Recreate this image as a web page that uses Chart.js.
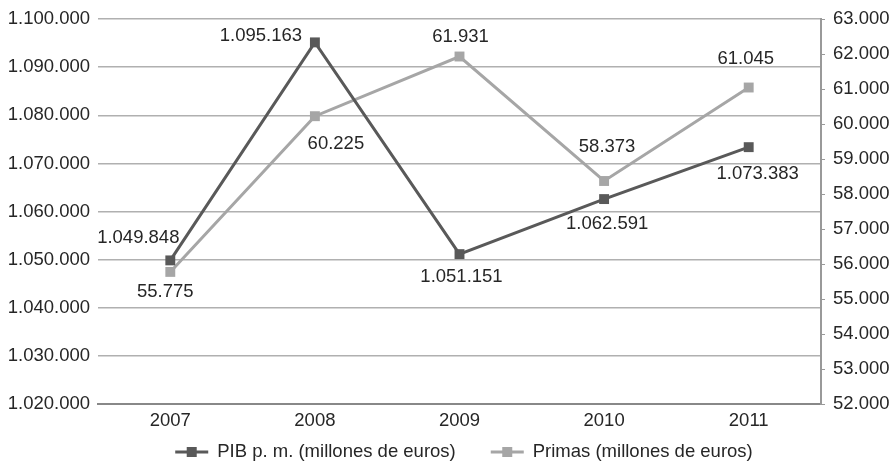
<!DOCTYPE html>
<html>
<head>
<meta charset="utf-8">
<script src="https://cdn.jsdelivr.net/npm/chart.js@4/dist/chart.umd.min.js"></script>
<style>
  html, body { margin: 0; padding: 0; background: #fff; }
  #wrap { width: 894px; height: 463px; }
</style>
</head>
<body>
<div id="wrap"><canvas id="chart" width="894" height="463"></canvas></div>
<script>
// datos
const years = ["2007", "2008", "2009", "2010", "2011"];
const pibValues = [1049848, 1095163, 1051151, 1062591, 1073383];
const primasValues = [55775, 60225, 61931, 58373, 61045];
const pibLabel = "PIB p. m. (millones de euros)";
const primasLabel = "Primas (millones de euros)";
const leftTicks = { min: 1020000, max: 1100000, step: 10000 };
const rightTicks = { min: 52000, max: 63000, step: 1000 };

// desplazamiento de etiquetas (estilo)
const pibLabelOffsets = [[-32, -22], [-54, -6], [2, 23], [3, 25], [9, 27]];
const primasLabelOffsets = [[-5, 20], [21, 28], [1, -20], [3, -34], [-3, -29]];

const darkGray = "#595959";
const lightGray = "#a6a6a6";
const textColor = "#262626";
const FONT = "'Liberation Sans', Arial, sans-serif";
const FONT_SIZE = 18.5;

// formato con punto de miles
function fmt(v) {
  return String(Math.round(v)).replace(/\B(?=(\d{3})+(?!\d))/g, ".");
}

// etiquetas de datos
const dataLabelPlugin = {
  id: "dataLabels",
  afterDatasetsDraw(chart) {
    const ctx = chart.ctx;
    ctx.save();
    ctx.font = FONT_SIZE + "px " + FONT;
    ctx.fillStyle = textColor;
    ctx.textAlign = "center";
    ctx.textBaseline = "middle";
    chart.data.datasets.forEach((ds, i) => {
      const meta = chart.getDatasetMeta(i);
      meta.data.forEach((pt, j) => {
        const off = ds.labelOffsets[j];
        ctx.fillText(fmt(ds.data[j]), pt.x + off[0], pt.y + off[1]);
      });
    });
    ctx.restore();
  },
};

// leyenda propia
const legendPlugin = {
  id: "customLegend",
  afterDraw(chart) {
    const ctx = chart.ctx;
    ctx.save();
    ctx.font = FONT_SIZE + "px " + FONT;
    const lineW = 33;
    const gapText = 9;
    const gapItem = 35;
    const items = chart.data.datasets.map((ds) => ({
      text: ds.label,
      color: ds.borderColor,
      w: lineW + gapText + ctx.measureText(ds.label).width,
    }));
    const total = items.reduce((s, it) => s + it.w, 0) + gapItem * (items.length - 1);
    let x = 464 - total / 2;
    const y = 452;
    items.forEach((it) => {
      ctx.strokeStyle = it.color;
      ctx.lineWidth = 3;
      ctx.beginPath();
      ctx.moveTo(x, y);
      ctx.lineTo(x + lineW, y);
      ctx.stroke();
      ctx.fillStyle = it.color;
      ctx.fillRect(x + lineW / 2 - 5, y - 5, 10, 10);
      ctx.fillStyle = textColor;
      ctx.textAlign = "left";
      ctx.textBaseline = "middle";
      ctx.fillText(it.text, x + lineW + gapText, y);
      x += it.w + gapItem;
    });
    ctx.restore();
  },
};

const ctx = document.getElementById("chart").getContext("2d");
new Chart(ctx, {
  type: "line",
  data: {
    labels: years,
    datasets: [
      {
        label: pibLabel,
        data: pibValues,
        yAxisID: "y",
        borderColor: darkGray,
        backgroundColor: darkGray,
        borderWidth: 3,
        pointStyle: "rect",
        pointRadius: 7,
        pointBorderWidth: 0,
        tension: 0,
        labelOffsets: pibLabelOffsets,
      },
      {
        label: primasLabel,
        data: primasValues,
        yAxisID: "y1",
        borderColor: lightGray,
        backgroundColor: lightGray,
        borderWidth: 3,
        pointStyle: "rect",
        pointRadius: 7,
        pointBorderWidth: 0,
        tension: 0,
        labelOffsets: primasLabelOffsets,
      },
    ],
  },
  options: {
    responsive: false,
    animation: false,
    devicePixelRatio: 1,
    layout: { padding: { top: 18, right: 0, bottom: 30, left: 0 } },
    plugins: {
      legend: { display: false },
      tooltip: { enabled: false },
    },
    scales: {
      x: {
        offset: true,
        grid: { display: false, drawTicks: false },
        border: { display: true, color: "#888888", width: 2 },
        ticks: { color: textColor, font: { size: FONT_SIZE, family: FONT }, padding: 6 },
        afterFit: (scale) => { scale.height = 29; },
      },
      y: {
        position: "left",
        min: leftTicks.min,
        max: leftTicks.max,
        grid: { color: "#b0b0b0", lineWidth: 1.5, drawTicks: false },
        border: { display: false },
        ticks: {
          stepSize: leftTicks.step,
          color: textColor,
          font: { size: FONT_SIZE, family: FONT },
          padding: 8,
          callback: (v) => fmt(v),
        },
        afterFit: (scale) => { scale.width = 98; },
      },
      y1: {
        position: "right",
        min: rightTicks.min,
        max: rightTicks.max,
        grid: { drawOnChartArea: false, drawTicks: true, tickLength: 4, color: "#999999", lineWidth: 1 },
        border: { display: true, color: "#999999", width: 2 },
        ticks: {
          stepSize: rightTicks.step,
          color: textColor,
          font: { size: FONT_SIZE, family: FONT },
          padding: 8,
          callback: (v) => fmt(v),
        },
        afterFit: (scale) => { scale.width = 73; },
      },
    },
  },
  plugins: [dataLabelPlugin, legendPlugin],
});
</script>
</body>
</html>
